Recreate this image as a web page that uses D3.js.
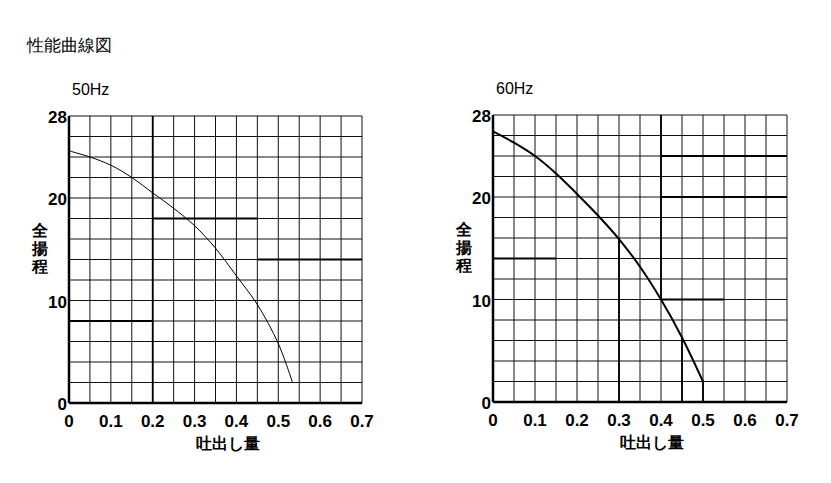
<!DOCTYPE html>
<html><head><meta charset="utf-8">
<script src="https://cdn.jsdelivr.net/npm/d3@7"></script>
<style>body{margin:0;background:#fff}text{font-family:"Liberation Sans",Arial,sans-serif}</style>
</head><body><svg id="c" width="831" height="483"></svg>
<script>
const xTicks=[0,0.1,0.2,0.3,0.4,0.5,0.6,0.7];
const yTicks=[0,10,20,28];
const q50=[0,0.05,0.1,0.15,0.2,0.25,0.3,0.35,0.4,0.45,0.5,0.534];
const h50=[24.6,24.0,23.2,22.0,20.5,19.0,17.3,15.1,12.4,9.6,5.8,2];
const q60=[0,0.05,0.1,0.15,0.2,0.25,0.3,0.35,0.4,0.45,0.5];
const h60=[26.4,25.3,24,22.3,20.3,18.2,15.9,13.2,10,6.3,2];
const thick50=[["v",0.2,0,28],["h",18,0.2,0.45],["h",14,0.45,0.7],["h",8,0,0.2]];
const thick60=[["v",0.4,10,28],["v",0.3,0,16],["v",0.45,0,6.3],["v",0.5,0,2],["h",24,0.4,0.7],["h",20,0.4,0.7],["h",10,0.4,0.55],["h",14,0,0.15]];
const svg=d3.select("#c");
svg.append("text").attr("x",27).attr("y",51).attr("font-size",17).attr("font-family","Noto Sans CJK JP").text("性能曲線図");
function panel(x0,x1,y0,y1,label,q,h,thick,sw){
  const x=d3.scaleLinear().domain([0,0.7]).range([x0,x1]);
  const y=d3.scaleLinear().domain([0,28]).range([y1,y0]);
  const g=svg.append("g");
  g.append("text").attr("x",x0+3).attr("y",y0-21).attr("font-size",16).text(label);
  for(let v=0;v<=0.7001;v+=0.05) g.append("line").attr("x1",x(v)).attr("x2",x(v)).attr("y1",y0).attr("y2",y1).attr("stroke","#111").attr("stroke-width",1);
  for(let v=0;v<=28;v+=2) g.append("line").attr("x1",x0).attr("x2",x1).attr("y1",y(v)).attr("y2",y(v)).attr("stroke","#111").attr("stroke-width",1);
  thick.forEach(t=>{ if(t[0]=="v") g.append("line").attr("x1",x(t[1])).attr("x2",x(t[1])).attr("y1",y(t[2])).attr("y2",y(t[3])).attr("stroke","#000").attr("stroke-width",1.8);
    else g.append("line").attr("x1",x(t[2])).attr("x2",x(t[3])).attr("y1",y(t[1])).attr("y2",y(t[1])).attr("stroke","#000").attr("stroke-width",1.8);});
  g.append("line").attr("x1",x0).attr("x2",x0).attr("y1",y0).attr("y2",y1).attr("stroke","#000").attr("stroke-width",2.5);
  g.append("line").attr("x1",x0).attr("x2",x1).attr("y1",y1).attr("y2",y1).attr("stroke","#000").attr("stroke-width",2.5);
  g.append("path").datum(q.map((d,i)=>[d,h[i]])).attr("d",d3.line().x(d=>x(d[0])).y(d=>y(d[1])).curve(d3.curveCatmullRom)).attr("fill","none").attr("stroke","#000").attr("stroke-width",sw);
  xTicks.forEach(t=>g.append("text").attr("x",x(t)).attr("y",y1+24).attr("text-anchor","middle").attr("font-size",17).attr("font-weight","bold").text(t));
  yTicks.forEach(t=>g.append("text").attr("x",x0-2).attr("y",y(t)+7).attr("text-anchor","end").attr("font-size",17).attr("font-weight","bold").text(t));
  ["全","揚","程"].forEach((c,i)=>g.append("text").attr("x",x0-29).attr("y",y0+120+i*18).attr("text-anchor","middle").attr("font-size",16).attr("font-weight","bold").attr("font-family","Noto Sans CJK JP").text(c));
  g.append("text").attr("x",(x0+x1)/2+12).attr("y",y1+46).attr("text-anchor","middle").attr("font-size",16).attr("font-weight","bold").attr("font-family","Noto Sans CJK JP").text("吐出し量");
}
panel(69,362,116,403,"50Hz",q50,h50,thick50,1);
panel(493,787,115,402,"60Hz",q60,h60,thick60,2);
</script></body></html>
